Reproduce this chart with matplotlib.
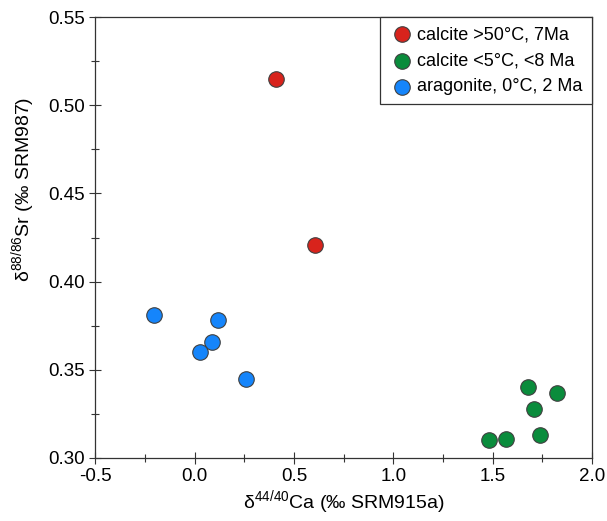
import matplotlib.pyplot as plt
from matplotlib.ticker import MultipleLocator

# values
calcite_hot_ca = [0.41, 0.607]
calcite_hot_sr = [0.515, 0.421]

calcite_cold_ca = [1.48, 1.567, 1.678, 1.708, 1.738, 1.824]
calcite_cold_sr = [0.310, 0.311, 0.340, 0.328, 0.313, 0.337]

aragonite_ca = [-0.203, 0.119, 0.089, 0.028, 0.26]
aragonite_sr = [0.381, 0.378, 0.366, 0.360, 0.345]

labels = ["calcite >50°C, 7Ma", "calcite <5°C, <8 Ma", "aragonite, 0°C, 2 Ma"]

plt.rcParams['font.family'] = ['Liberation Sans', 'DejaVu Sans']
plt.rcParams['mathtext.fontset'] = 'custom'
plt.rcParams['mathtext.rm'] = 'Liberation Sans'

fig = plt.figure(figsize=(6.07, 5.21), dpi=100)
ax = fig.add_axes([0.157, 0.121, 0.818, 0.846])

kw = dict(s=125, edgecolors='#404040', linewidths=0.8, zorder=3)
ax.scatter(calcite_hot_ca, calcite_hot_sr, c='#d8231c', label=labels[0], **kw)
ax.scatter(calcite_cold_ca, calcite_cold_sr, c='#0a8c3c', label=labels[1], **kw)
ax.scatter(aragonite_ca, aragonite_sr, c='#1585fb', label=labels[2], **kw)

ax.set_xlim(-0.5, 2.0)
ax.set_ylim(0.30, 0.55)
ax.xaxis.set_major_locator(MultipleLocator(0.5))
ax.xaxis.set_minor_locator(MultipleLocator(0.25))
ax.yaxis.set_major_locator(MultipleLocator(0.05))
ax.yaxis.set_minor_locator(MultipleLocator(0.025))
ax.xaxis.set_major_formatter(plt.FormatStrFormatter('%.1f'))
ax.yaxis.set_major_formatter(plt.FormatStrFormatter('%.2f'))
ax.tick_params(which='both', direction='inout', color='#333333', labelsize=13.5, width=0.8)
ax.tick_params(which='major', length=8)
ax.tick_params(which='minor', length=6)
for sp in ax.spines.values():
    sp.set_color('#333333')
    sp.set_linewidth(0.9)

ax.set_xlabel('δ$^{44/40}$Ca (‰ SRM915a)', fontsize=14, labelpad=2)
ax.set_ylabel('δ$^{88/86}$Sr (‰ SRM987)', fontsize=14)
ax.yaxis.set_label_coords(-0.115, 0.61)

leg = ax.legend(loc='upper right', borderaxespad=0, fontsize=13, fancybox=False,
                edgecolor='#333333', framealpha=1, handletextpad=0.1,
                borderpad=0.5, labelspacing=0.5, handlelength=1.5)
leg.get_frame().set_linewidth(0.9)

fig.savefig('out.png', dpi=100)
